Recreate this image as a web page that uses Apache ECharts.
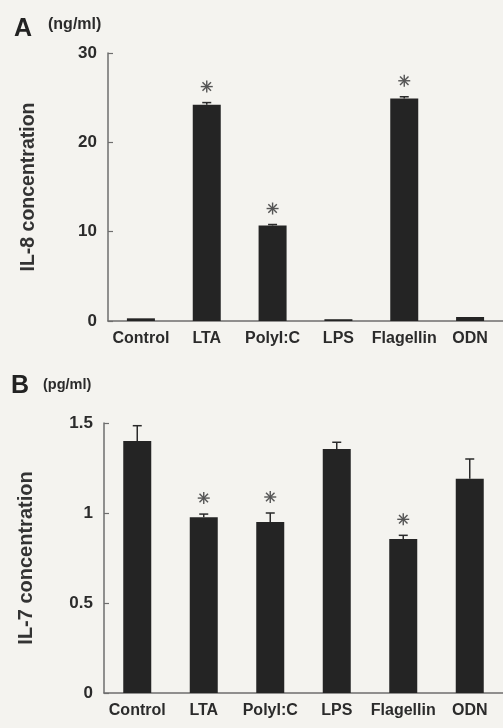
<!DOCTYPE html>
<html><head><meta charset="utf-8">
<script src="https://cdn.jsdelivr.net/npm/echarts@6/dist/echarts.min.js"></script>
<style>html,body{margin:0;padding:0;background:#f4f3ef;}#c{width:503px;height:728px;}</style>
</head><body><div id="c"></div>
<script>
const categories = ['Control', 'LTA', 'PolyI:C', 'LPS', 'Flagellin', 'ODN'];
const il8Mean = [0.3, 24.2, 10.7, 0.2, 24.9, 0.45];
const il8Err = [0, 0.25, 0.1, 0, 0.2, 0];
const il8Sig = [0, 1, 1, 0, 1, 0];
const il7Mean = [1.40, 0.976, 0.95, 1.356, 0.856, 1.19];
const il7Err = [0.085, 0.018, 0.05, 0.037, 0.02, 0.11];
const il7Sig = [0, 1, 1, 0, 1, 0];
const il8Ticks = [0, 10, 20, 30];
const il7Ticks = [0, 0.5, 1, 1.5];

const FONT = '"Liberation Sans", Arial, sans-serif';
const TXT = '#2b2b2b';
const AX = '#6e6e6e';

function errData(mean, err, sig) {
  return mean.map((m, i) => [i, m, err[i], sig[i]]);
}
function renderErr(params, api) {
  const i = api.value(0), m = api.value(1), e = api.value(2), s = api.value(3);
  const base = api.coord([i, m]);
  const top = api.coord([i, m + e]);
  const children = [];
  const st = { stroke: '#2a2a2a', lineWidth: 1.5 };
  if (e > 0) {
    children.push({ type: 'line', shape: { x1: base[0], y1: base[1], x2: top[0], y2: top[1] }, style: st });
    children.push({ type: 'line', shape: { x1: top[0] - 4.5, y1: top[1], x2: top[0] + 4.5, y2: top[1] }, style: st });
  }
  if (s) {
    const cx = top[0], cy = top[1] - 16, r = 6;
    for (let k = 0; k < 4; k++) {
      const a = k * Math.PI / 4;
      children.push({ type: 'line', shape: { x1: cx - r * Math.sin(a), y1: cy - r * Math.cos(a), x2: cx + r * Math.sin(a), y2: cy + r * Math.cos(a) }, style: { stroke: '#555', lineWidth: 1.4 } });
    }
  }
  return { type: 'group', children };
}

function xAxisCfg(idx) {
  return {
    type: 'category', gridIndex: idx, data: categories,
    axisLine: { lineStyle: { color: AX, width: 1.5 } },
    axisTick: { inside: true, length: 4, lineStyle: { color: AX, width: 1.2 } },
    axisLabel: { color: TXT, fontFamily: FONT, fontWeight: 'bold', fontSize: 16, margin: 10, interval: 0 }
  };
}
function yAxisCfg(idx, ticks, name, nameGap, nameSize) {
  return {
    type: 'value', gridIndex: idx, min: ticks[0], max: ticks[ticks.length - 1],
    interval: ticks[1] - ticks[0],
    name: name, nameLocation: 'middle', nameGap: nameGap, nameRotate: 90,
    nameTextStyle: { color: '#333', fontFamily: FONT, fontSize: nameSize, fontWeight: 'bold' },
    axisLine: { show: true, lineStyle: { color: AX, width: 1.5 } },
    axisTick: { show: true, inside: true, length: 5, lineStyle: { color: AX, width: 1.2 } },
    splitLine: { show: false },
    axisLabel: { color: TXT, fontFamily: FONT, fontWeight: 'bold', fontSize: 17, margin: 11,
      formatter: v => ticks.indexOf(v) >= 0 ? String(v) : '' }
  };
}

const chart = echarts.init(document.getElementById('c'), null, { renderer: 'canvas' });
chart.setOption({
  backgroundColor: '#f4f3ef',
  animation: false,
  grid: [
    { left: 108, right: 0, top: 53, height: 268 },
    { left: 104, right: 0, top: 423, height: 270 }
  ],
  xAxis: [xAxisCfg(0), xAxisCfg(1)],
  yAxis: [yAxisCfg(0, il8Ticks, 'IL-8 concentration', 69, 19.5), yAxisCfg(1, il7Ticks, 'IL-7 concentration', 68, 20)],
  graphic: [
    { type: 'text', left: 14, top: 17, style: { text: 'A', fill: '#222', font: 'bold 25px ' + FONT } },
    { type: 'text', left: 48, top: 17, style: { text: '(ng/ml)', fill: TXT, font: 'bold 16px ' + FONT } },
    { type: 'text', left: 11, top: 374, style: { text: 'B', fill: '#222', font: 'bold 25px ' + FONT } },
    { type: 'text', left: 43, top: 377, style: { text: '(pg/ml)', fill: TXT, font: 'bold 14.5px ' + FONT } }
  ],
  series: [
    { type: 'bar', xAxisIndex: 0, yAxisIndex: 0, data: il8Mean, barWidth: 28, itemStyle: { color: '#242424' } },
    { type: 'custom', xAxisIndex: 0, yAxisIndex: 0, data: errData(il8Mean, il8Err, il8Sig), renderItem: renderErr, z: 5 },
    { type: 'bar', xAxisIndex: 1, yAxisIndex: 1, data: il7Mean, barWidth: 28, itemStyle: { color: '#242424' } },
    { type: 'custom', xAxisIndex: 1, yAxisIndex: 1, data: errData(il7Mean, il7Err, il7Sig), renderItem: renderErr, z: 5 }
  ]
});
</script></body></html>
